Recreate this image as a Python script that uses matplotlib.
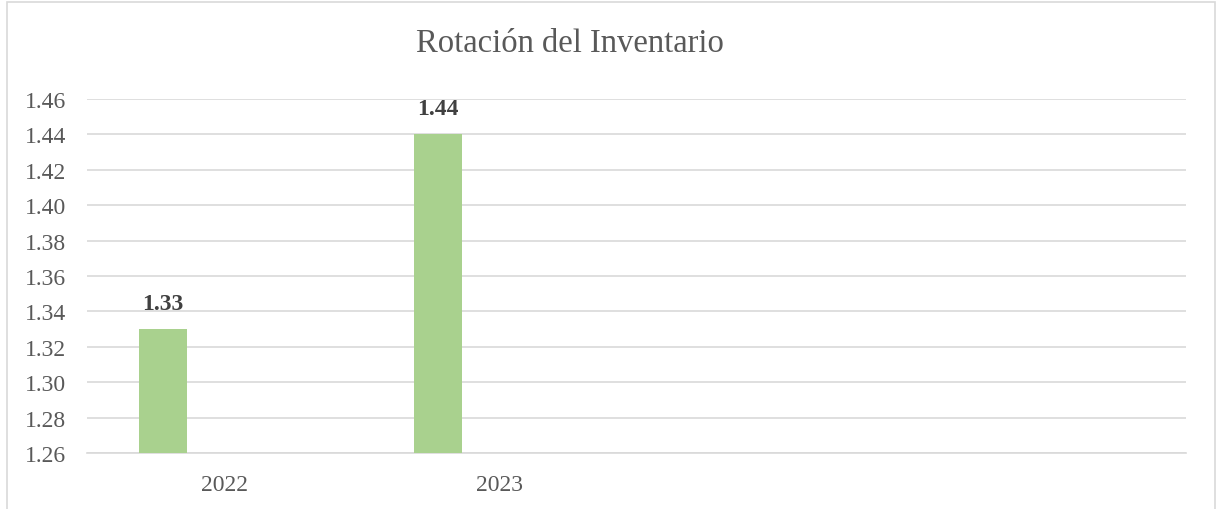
import matplotlib.pyplot as plt
from matplotlib.patches import Rectangle
import numpy as np

# Chart data
categories = ["2022", "2023", "", ""]
values = [1.33, 1.44]
title = "Rotación del Inventario"
y_ticks = [1.26, 1.28, 1.30, 1.32, 1.34, 1.36, 1.38, 1.40, 1.42, 1.44, 1.46]

plt.rcParams['font.family'] = ['Liberation Serif', 'DejaVu Serif']

fig = plt.figure(figsize=(12.22, 5.10), dpi=100)
ax = fig.add_axes([87 / 1222, 1 - 454 / 510, 1099 / 1222, 354 / 510])

# outer chart border (bottom edge runs off the picture)
fig.patches.append(Rectangle((7 / 1222, -0.05), 1208 / 1222, 1.05 - 3 / 510,
                             transform=fig.transFigure, fill=False,
                             edgecolor='#D9D9D9', linewidth=1.2))

x = np.arange(len(values)) - 0.224
bars = ax.bar(x, values, width=0.175, color='#A9D18E', zorder=3)

for xi, v in zip(x, values):
    ax.annotate(f'{v:.2f}', (xi, v), xytext=(0, 11), textcoords='offset points',
                ha='center', va='bottom', fontsize=17, fontweight='bold',
                color='#404040')

ax.set_xlim(-0.5, len(categories) - 0.5)
ax.set_ylim(1.26, 1.46)
ax.set_yticks(y_ticks)
ax.set_yticklabels([f'{t:.2f}' for t in y_ticks])
ax.set_xticks(np.arange(len(categories)))
ax.set_xticklabels(categories)

ax.grid(axis='y', color='#D9D9D9', linewidth=1.2, zorder=0)
for side in ['top', 'right', 'left']:
    ax.spines[side].set_visible(False)
ax.spines['bottom'].set_color('#D9D9D9')
ax.spines['bottom'].set_linewidth(1.2)
ax.tick_params(axis='both', length=0, labelsize=17, labelcolor='#595959')
ax.tick_params(axis='y', pad=15)
ax.tick_params(axis='x', pad=15)

fig.text(570 / 1222, 1 - 44 / 510, title, ha='center', va='center',
         fontsize=23.5, color='#595959')

fig.savefig('out.png', dpi=100)
